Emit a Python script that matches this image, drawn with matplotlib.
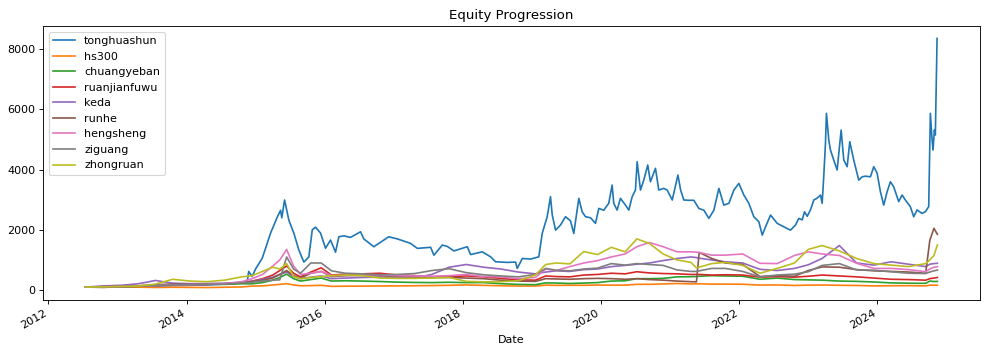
import matplotlib
matplotlib.use('Agg')
import matplotlib.pyplot as plt
import matplotlib.dates as mdates
import pandas as pd

# decimal-year positions
grid_years = [2012.54, 2012.8, 2013.05, 2013.3, 2013.55, 2013.8, 2014.05, 2014.3, 2014.55, 2014.8,
              2014.95, 2015.1, 2015.25, 2015.35, 2015.45, 2015.55, 2015.65, 2015.8, 2015.95, 2016.1,
              2016.3, 2016.55, 2016.8, 2017.05, 2017.3, 2017.55, 2017.8, 2018.05, 2018.3, 2018.55,
              2018.8, 2019.05, 2019.2, 2019.35, 2019.55, 2019.75, 2019.95, 2020.15, 2020.35, 2020.52,
              2020.7, 2020.9, 2021.1, 2021.3, 2021.38, 2021.42, 2021.6, 2021.8, 2022.05, 2022.3,
              2022.55, 2022.8, 2023.0, 2023.2, 2023.45, 2023.7, 2023.95, 2024.2, 2024.45, 2024.7,
              2024.76, 2024.82, 2024.87]

ths_years = [2012.54, 2012.8, 2013.05, 2013.3, 2013.55, 2013.8, 2014.05, 2014.3, 2014.55, 2014.8,
             2014.88, 2014.9, 2014.95, 2015.0, 2015.097, 2015.217, 2015.314, 2015.362, 2015.38, 2015.42,
             2015.482, 2015.554, 2015.627, 2015.699, 2015.771, 2015.821, 2015.868, 2015.941, 2016.013, 2016.086,
             2016.158, 2016.206, 2016.278, 2016.375, 2016.52, 2016.567, 2016.712, 2016.929, 2017.05, 2017.243,
             2017.34, 2017.533, 2017.58, 2017.702, 2017.774, 2017.87, 2018.064, 2018.111, 2018.208, 2018.281,
             2018.401, 2018.473, 2018.643, 2018.763, 2018.787, 2018.86, 2018.98, 2019.1, 2019.149, 2019.221,
             2019.269, 2019.294, 2019.342, 2019.414, 2019.486, 2019.558, 2019.606, 2019.679, 2019.727, 2019.776,
             2019.848, 2019.92, 2019.968, 2020.04, 2020.113, 2020.162, 2020.185, 2020.234, 2020.282, 2020.355,
             2020.403, 2020.452, 2020.499, 2020.524, 2020.572, 2020.62, 2020.677, 2020.716, 2020.789, 2020.837,
             2020.909, 2020.958, 2021.03, 2021.112, 2021.151, 2021.198, 2021.27, 2021.343, 2021.415, 2021.488,
             2021.56, 2021.632, 2021.705, 2021.777, 2021.85, 2021.922, 2021.994, 2022.067, 2022.139, 2022.211,
             2022.284, 2022.333, 2022.381, 2022.453, 2022.55, 2022.646, 2022.742, 2022.815, 2022.862, 2022.912,
             2022.945, 2022.984, 2023.032, 2023.08, 2023.129, 2023.177, 2023.201, 2023.224, 2023.249, 2023.263,
             2023.297, 2023.321, 2023.369, 2023.418, 2023.476, 2023.514, 2023.563, 2023.601, 2023.658, 2023.731,
             2023.78, 2023.828, 2023.9, 2023.948, 2023.997, 2024.045, 2024.093, 2024.142, 2024.19, 2024.237,
             2024.31, 2024.359, 2024.406, 2024.479, 2024.527, 2024.576, 2024.648, 2024.696, 2024.744, 2024.768,
             2024.793, 2024.807, 2024.826, 2024.84, 2024.865]

tonghuashun = [100, 95, 110, 105, 130, 150, 160, 170, 200, 240,
               300, 620, 450, 700, 1060, 1890, 2420, 2650, 2400, 2990,
               2320, 1890, 1330, 930, 1100, 2000, 2090, 1890, 1390, 1660,
               1260, 1770, 1800, 1750, 1935, 1700, 1440, 1770, 1700, 1550,
               1385, 1420, 1160, 1495, 1450, 1300, 1440, 1180, 1230, 1270,
               1105, 940, 920, 930, 720, 1050, 1030, 1105, 1880, 2435,
               3100, 2500, 1990, 2160, 2435, 2300, 1880, 3045, 2600, 2435,
               2400, 2215, 2710, 2650, 2880, 3485, 2880, 2655, 3045, 2820,
               2655, 3100, 3320, 4260, 3320, 3650, 4150, 3595, 4040, 3320,
               3375, 3320, 2990, 3820, 3320, 2990, 2980, 2980, 2710, 2650,
               2380, 2650, 3375, 2820, 2880, 3320, 3540, 3155, 2880, 2435,
               2270, 1825, 2100, 2490, 2215, 2100, 1990, 2160, 2380, 2330,
               2600, 2450, 2660, 2990, 3050, 3155, 2880, 3760, 4870, 5865,
               4980, 4650, 4315, 3985, 5310, 4315, 4095, 4925, 4315, 3650,
               3760, 3780, 3760, 4095, 3875, 3265, 2820, 3265, 3595, 3430,
               2935, 3155, 2990, 2765, 2435, 2660, 2545, 2600, 2770, 5865,
               4980, 4650, 5310, 5145, 8350]

hs300 = [100, 92, 105, 98, 88, 95, 90, 85, 95, 105,
         135, 140, 170, 190, 215, 170, 145, 150, 160, 125,
         130, 132, 138, 140, 145, 152, 160, 172, 158, 145,
         135, 135, 165, 158, 162, 160, 168, 165, 165, 192,
         192, 205, 220, 205, 208, 210, 198, 200, 195, 168,
         172, 155, 165, 168, 160, 155, 140, 145, 148, 140,
         165, 162, 163]

chuangyeban = [100, 95, 110, 125, 160, 185, 195, 200, 190, 210,
               210, 250, 330, 420, 530, 380, 300, 350, 400, 300,
               310, 300, 285, 265, 255, 250, 260, 250, 250, 215,
               190, 180, 240, 235, 220, 235, 250, 300, 310, 380,
               380, 390, 440, 445, 450, 460, 480, 470, 460, 360,
               400, 350, 340, 330, 300, 290, 270, 240, 230, 225,
               300, 285, 290]

ruanjianfuwu = [100, 105, 115, 140, 160, 175, 185, 190, 210, 250,
                300, 380, 500, 650, 800, 560, 440, 600, 740, 500,
                530, 540, 560, 500, 480, 440, 450, 470, 440, 390,
                340, 330, 470, 450, 440, 500, 520, 560, 540, 610,
                570, 550, 540, 520, 520, 520, 500, 510, 500, 430,
                450, 430, 460, 500, 470, 440, 400, 360, 350, 330,
                380, 400, 420]

keda = [100, 140, 160, 210, 320, 230, 215, 220, 230, 260,
        290, 360, 430, 520, 600, 450, 380, 430, 470, 380,
        400, 420, 430, 420, 400, 520, 760, 850, 760, 700,
        600, 540, 600, 640, 620, 680, 700, 780, 820, 860,
        900, 980, 1050, 1100, 1080, 1060, 1000, 940, 900, 690,
        650, 720, 840, 1050, 1480, 900, 830, 940, 860, 780,
        860, 880, 890]

runhe = [100, 115, 125, 140, 180, 200, 190, 195, 210, 250,
         280, 330, 400, 520, 650, 480, 400, 560, 620, 450,
         480, 490, 480, 460, 440, 420, 420, 400, 380, 330,
         300, 290, 380, 370, 360, 380, 390, 380, 360, 380,
         350, 330, 300, 280, 275, 1250, 1050, 900, 850, 450,
         480, 460, 650, 770, 760, 680, 640, 620, 600, 560,
         1650, 2050, 1850]

hengsheng = [100, 110, 120, 135, 150, 170, 180, 190, 210, 280,
             380, 520, 800, 1000, 1350, 800, 520, 560, 620, 480,
             490, 500, 510, 480, 470, 460, 480, 520, 450, 440,
             380, 420, 700, 650, 780, 900, 980, 1100, 1200, 1440,
             1580, 1440, 1270, 1270, 1260, 1250, 1160, 1160, 1200, 890,
             880, 1150, 1270, 1200, 1150, 890, 720, 720, 680, 610,
             700, 760, 775]

ziguang = [100, 105, 120, 130, 150, 170, 180, 190, 200, 240,
           260, 300, 330, 340, 1100, 700, 560, 900, 900, 640,
           560, 540, 510, 520, 550, 650, 710, 580, 510, 470,
           440, 520, 720, 660, 640, 700, 730, 880, 830, 880,
           850, 820, 670, 620, 620, 640, 720, 720, 620, 440,
           500, 530, 610, 820, 880, 670, 660, 610, 560, 550,
           600, 640, 665]

zhongruan = [100, 110, 120, 135, 200, 360, 300, 280, 330, 440,
             480, 620, 760, 700, 880, 450, 380, 420, 450, 480,
             500, 480, 400, 390, 390, 400, 420, 290, 275, 280,
             310, 500, 850, 900, 870, 1280, 1180, 1420, 1270, 1700,
             1550, 1200, 1000, 920, 740, 760, 880, 920, 820, 560,
             720, 900, 1350, 1480, 1300, 1050, 880, 830, 780, 880,
             1000, 1150, 1500]


def to_date(y):
    yr = int(y)
    return pd.Timestamp(yr, 1, 1) + pd.Timedelta(days=(y - yr) * 365.25)


grid_dates = [to_date(y) for y in grid_years]
ths_dates = [to_date(y) for y in ths_years]

others = {
    'hs300': hs300,
    'chuangyeban': chuangyeban,
    'ruanjianfuwu': ruanjianfuwu,
    'keda': keda,
    'runhe': runhe,
    'hengsheng': hengsheng,
    'ziguang': ziguang,
    'zhongruan': zhongruan,
}

fig, ax = plt.subplots(figsize=(12.375, 4.425), dpi=80)
ax.plot(ths_dates, tonghuashun, label='tonghuashun')
for name, vals in others.items():
    ax.plot(grid_dates, vals, label=name)

ax.set_title('Equity Progression')
ax.set_xlabel('Date')
ax.legend(loc='upper left')
ax.xaxis.set_major_locator(mdates.YearLocator(2))
ax.xaxis.set_major_formatter(mdates.DateFormatter('%Y'))
for lbl in ax.get_xticklabels():
    lbl.set_rotation(30)
    lbl.set_ha('right')

plt.subplots_adjust(left=0.0434, right=0.9899, bottom=0.1525, top=0.9266)
plt.savefig('out.png', dpi=80)
